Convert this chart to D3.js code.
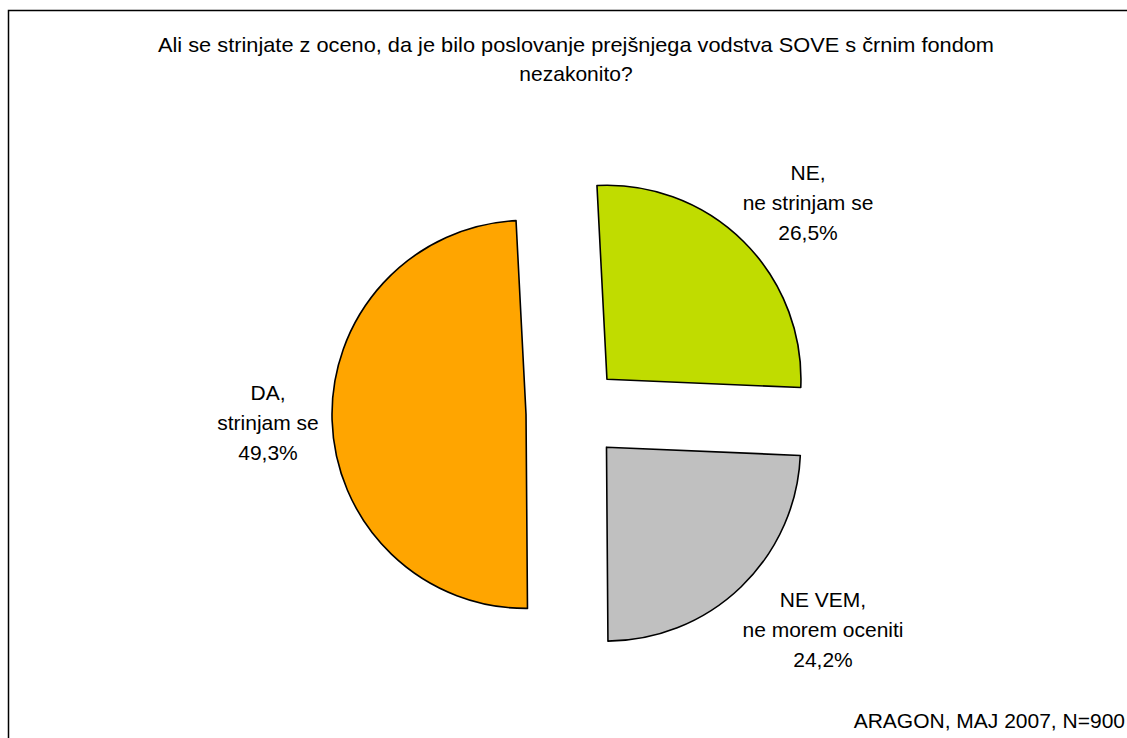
<!DOCTYPE html>
<html>
<head>
<meta charset="utf-8">
<script src="https://cdn.jsdelivr.net/npm/d3@7"></script>
<style>
  html, body { margin: 0; padding: 0; background: #fff; }
  svg text { font-family: "Liberation Sans", Arial, sans-serif; fill: #000; }
</style>
</head>
<body>
<div class="pie-chart"></div>
<script>
// chart data
var titleLines = ["Ali se strinjate z oceno, da je bilo poslovanje prejšnjega vodstva SOVE s črnim fondom",
                  "nezakonito?"];
var answers = ["NE,", "NE VEM,", "DA,"];
var subLabels = ["ne strinjam se", "ne morem oceniti", "strinjam se"];
var shares = [26.5, 24.2, 49.3];
var colors = ["#c0dc00", "#c0c0c0", "#ffa500"];
var source = "ARAGON, MAJ 2007, N=900";

var width = 1127,
    height = 738,
    radius = 194,
    explode = 47.5,
    cx = 573.5,
    cy = 413;

// middle line of each label block (layout only)
var labelAt = [[808, 202], [823, 629], [268, 422]];

var svg = d3.select(".pie-chart")
    .append("svg")
    .attr("width", width)
    .attr("height", height);

// frame
svg.append("rect")
    .attr("x", 8.5)
    .attr("y", 10.5)
    .attr("width", 1300)
    .attr("height", 900)
    .style("fill", "none")
    .style("stroke", "#000")
    .style("stroke-width", "1.5px");

// title
svg.append("g")
    .selectAll("text")
    .data(titleLines)
    .enter()
    .append("text")
    .attr("x", 576)
    .attr("y", function(d, i){ return 52 + i * 29; })
    .attr("text-anchor", "middle")
    .attr("textLength", function(d, i){ return i == 0 ? 836 : null; })
    .attr("lengthAdjust", "spacingAndGlyphs")
    .style("font-size", "21px")
    .text(function(d){ return d; });

var a0 = -2.95 * Math.PI / 180;
var pie = d3.pie()
    .sort(null)
    .startAngle(a0)
    .endAngle(a0 + 2 * Math.PI);

var arc = d3.arc()
    .innerRadius(0)
    .outerRadius(radius);

var slices = svg.append("g")
    .attr("transform", "translate(" + cx + "," + cy + ")")
    .selectAll("path")
    .data(pie(shares))
    .enter()
    .append("path")
    .attr("transform", function(d){
        var p = d3.pointRadial((d.startAngle + d.endAngle) / 2, explode);
        return "translate(" + p[0] + "," + p[1] + ")";
    })
    .attr("d", arc)
    .style("fill", function(d, i){ return colors[i]; })
    .style("stroke", "#000")
    .style("stroke-width", "1.6px")
    .style("stroke-linejoin", "round");

// data labels
var fmt = function(v){ return d3.format(".1f")(v).replace(".", ",") + "%"; };

var labels = svg.append("g")
    .selectAll("text")
    .data(shares)
    .enter()
    .append("text")
    .attr("text-anchor", "middle")
    .style("font-size", "21px")
    .attr("transform", function(d, i){ return "translate(" + labelAt[i][0] + "," + labelAt[i][1] + ")"; });

labels.each(function(d, i){
    var t = d3.select(this);
    [answers[i], subLabels[i], fmt(d)].forEach(function(line, k){
        t.append("tspan")
            .attr("x", 0)
            .attr("y", (k - 1) * 30 + 7.5)
            .text(line);
    });
});

// source
svg.append("text")
    .attr("x", 1125)
    .attr("y", 728)
    .attr("text-anchor", "end")
    .style("font-size", "21px")
    .text(source);
</script>
</body>
</html>
